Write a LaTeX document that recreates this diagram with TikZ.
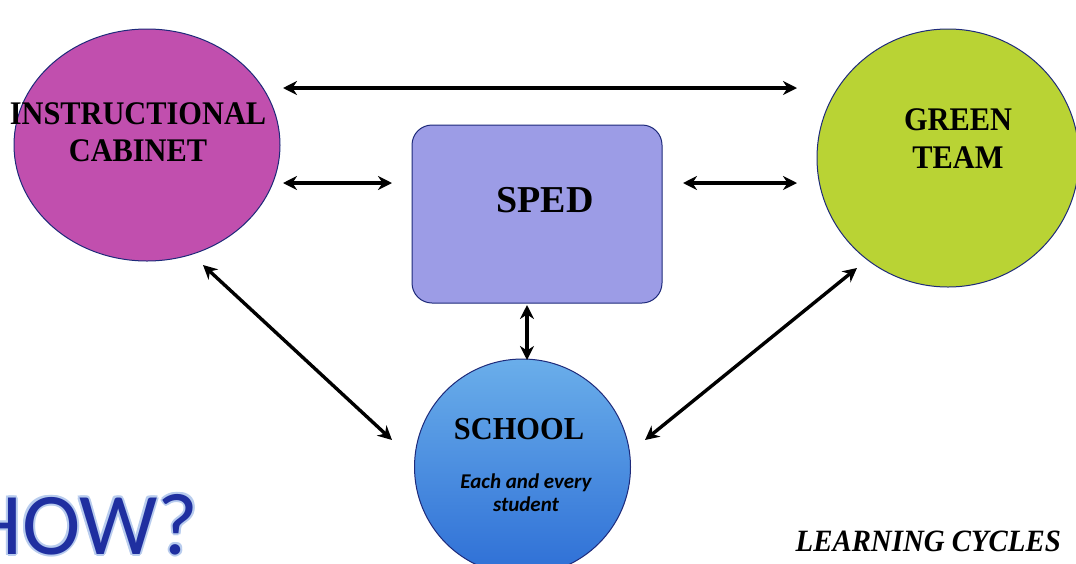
\documentclass[tikz,border=0pt]{standalone}
\usepackage{fontspec}
\setmainfont{Liberation Serif}
\newfontfamily\carl{Carlito}
\usetikzlibrary{arrows.meta,shapes.geometric}
\definecolor{icpink}{HTML}{C14FAE}
\definecolor{gtgreen}{HTML}{B9D334}
\definecolor{spedpurple}{HTML}{9C9CE6}
\definecolor{edgeblue}{HTML}{1E2A7A}
\definecolor{schooltop}{HTML}{6AAEEA}
\definecolor{schoolbot}{HTML}{2E6FD6}
\definecolor{howblue}{HTML}{1F2FA0}
\definecolor{howhalo}{HTML}{B8CCEE}
\newcommand{\howtxt}{HOW?}
\newcommand{\halo}[2]{\makebox[0pt][l]{\hspace*{#1pt}\raisebox{#2pt}{\textcolor{howhalo}{\howtxt}}}}
\begin{document}
\begin{tikzpicture}[x=1pt,y=-1pt,
  arr/.style={line width=3.4pt,{Stealth[length=14pt,width=14pt]}-{Stealth[length=14pt,width=14pt]}},
  bubble/.style={draw=edgeblue,line width=1pt,inner sep=0pt},
  lbl/.style={font=\bfseries,align=center,text=black,inner sep=0pt}]
\useasboundingbox (0,0) rectangle (1076,563);
\fill[white] (0,0) rectangle (1076,563);
% shapes
\node[bubble,ellipse,fill=icpink,minimum width=266pt,minimum height=232pt] (ic) at (147,145) {};
\node[bubble,ellipse,fill=gtgreen,minimum width=262pt,minimum height=258pt] (gt) at (948,158) {};
\node[bubble,rectangle,rounded corners=20pt,fill=spedpurple,minimum width=250pt,minimum height=178pt] (sped) at (537,214) {};
\node[bubble,circle,top color=schooltop,bottom color=schoolbot,minimum size=216pt] (school) at (522.5,467) {};
% labels
\node[lbl,font=\bfseries\fontsize{33}{37}\selectfont] (ictext) at (138,132) {\scalebox{0.92}[1]{INSTRUCTIONAL}\\\scalebox{0.92}[1]{CABINET}};
\node[lbl,font=\bfseries\fontsize{33}{38}\selectfont] (gttext) at (958,139) {\scalebox{0.92}[1]{GREEN}\\\scalebox{0.92}[1]{TEAM}};
\node[lbl,font=\bfseries\fontsize{38}{38}\selectfont] (spedtext) at (545,200) {SPED};
\node[lbl,font=\bfseries\fontsize{32}{34}\selectfont] (schooltext) at (519,429) {\scalebox{0.95}[1]{SCHOOL}};
\node[lbl,font=\carl\bfseries\itshape\fontsize{21}{23}\selectfont] (stud) at (526,493) {Each and every\\student};
\node[lbl,font=\bfseries\itshape\fontsize{31}{34}\selectfont,anchor=east] (lc) at (1061,541) {\scalebox{0.93}[1]{LEARNING CYCLES}};
% HOW?
\node[inner sep=0pt,anchor=base west,font=\carl\fontsize{88}{90}\selectfont] (how) at (-33,554)
  {\halo{-2}{0}\halo{2}{0}\halo{0}{2}\halo{0}{-2}\halo{1.5}{1.5}\halo{-1.5}{1.5}\halo{1.5}{-1.5}\halo{-1.5}{-1.5}\textcolor{howblue}{\howtxt}};
% connector end points
\coordinate (a1) at (283,88);  \coordinate (a2) at (797,88);
\coordinate (b1) at (283,183); \coordinate (b2) at (392,183);
\coordinate (c1) at (683,183); \coordinate (c2) at (797,183);
\coordinate (d1) at (203,265); \coordinate (d2) at (392,440);
\coordinate (e1) at (857,268); \coordinate (e2) at (645,440);
\coordinate (f1) at (527,305); \coordinate (f2) at (527,360);
\draw[arr] (a1) -- (a2);
\draw[arr] (b1) -- (b2);
\draw[arr] (c1) -- (c2);
\draw[arr] (d1) -- (d2);
\draw[arr] (e1) -- (e2);
\draw[arr] (f1) -- (f2);
\end{tikzpicture}
\end{document}
